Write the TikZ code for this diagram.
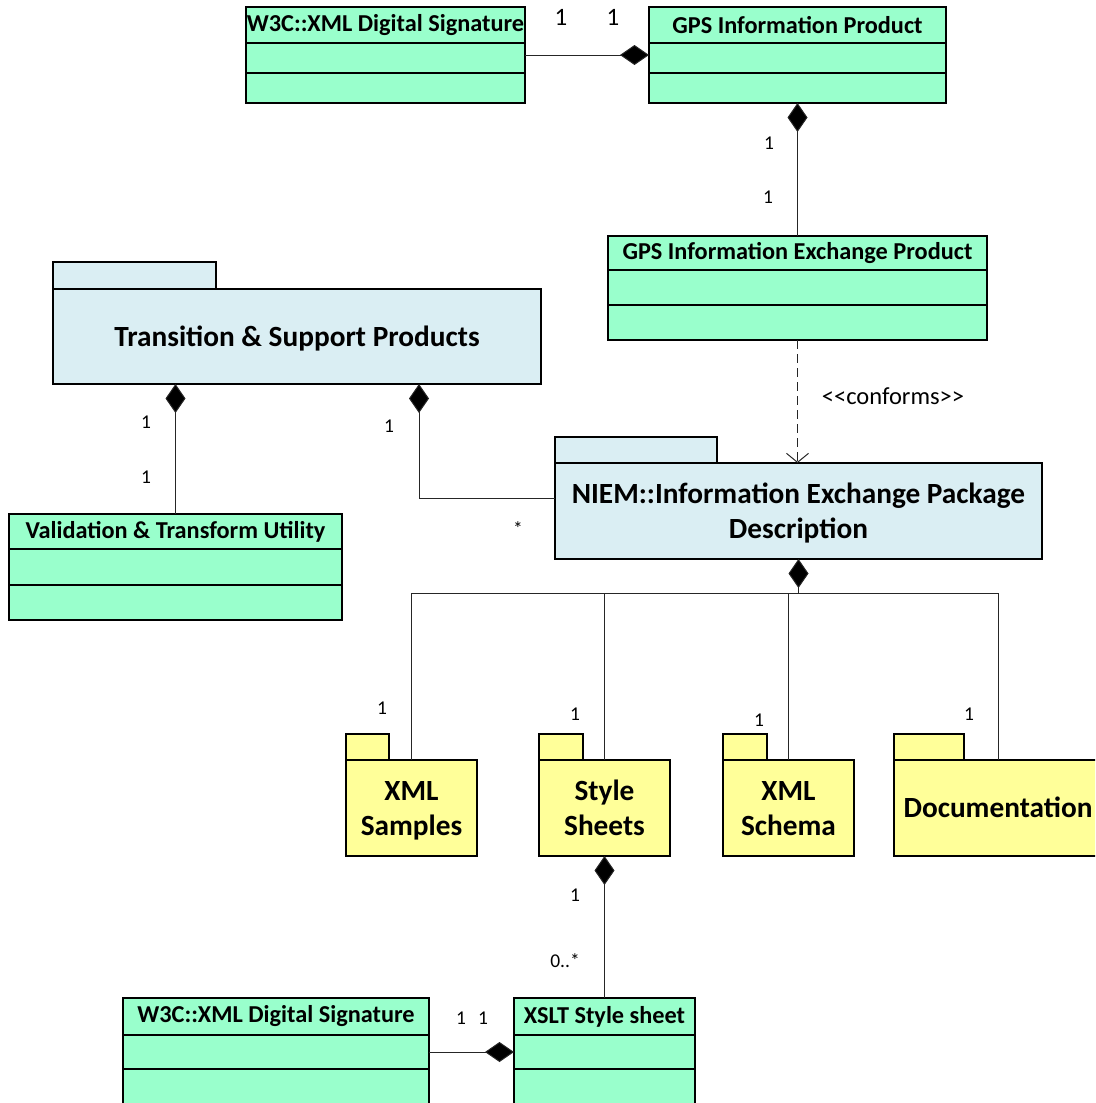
\documentclass[tikz,border=0pt]{standalone}
\usepackage{fontspec}
\setmainfont{Carlito}
\usetikzlibrary{arrows.meta,calc}
\definecolor{clsgreen}{HTML}{99FFCC}
\definecolor{pkgblue}{HTML}{DAEEF3}
\definecolor{pkgyellow}{HTML}{FFFF99}
\tikzset{
  boxline/.style={draw=black, line width=1.6pt},
  clsbox/.style={boxline, fill=clsgreen, anchor=north west, inner sep=0pt, outer sep=0pt},
  clshdr/.style={font=\bfseries\fontsize{24.3}{28}\selectfont, inner sep=0pt},
  pkgbody/.style={boxline, anchor=north west, inner sep=0pt, outer sep=0pt},
  pkgtext/.style={inner sep=0pt, align=center, font=\bfseries\fontsize{29.3}{35}\selectfont},
  conn/.style={draw=black!85, line width=1pt},
  comp/.style={conn, {Diamond[length=29pt,width=20pt,fill=black]}-},
  mult/.style={font=\fontsize{19.5}{22}\selectfont, inner sep=0pt},
  bigmult/.style={font=\fontsize{25}{28}\selectfont, inner sep=0pt},
}
\newcommand\umlclass[8]{% name, x, y, w, h, text, d1, d2
  \node[clsbox, minimum width=#4pt, minimum height=#5pt] (#1) at (#2,#3) {};
  \node[clshdr] (#1-t) at ($(#1.north)+(0,#7/2)$) {#6};
  \draw[boxline] ($(#1.north west)+(0,#7)$) -- ($(#1.north east)+(0,#7)$);
  \draw[boxline] ($(#1.north west)+(0,#8)$) -- ($(#1.north east)+(0,#8)$);
}
\newcommand\umlpkg[9]{% name, x, y, w, h, colour, tab width, tab height, text
  \node[pkgbody, fill=#6, minimum width=#4pt, minimum height=#5pt] (#1) at (#2,#3) {};
  \draw[boxline, fill=#6] (#1.north west) rectangle ++(#7,-#8);
  \node[pkgtext] (#1-t) at ([yshift=-2.5pt]#1.center) {#9};
}
\begin{document}
\begin{tikzpicture}[x=1pt,y=-1pt]
\useasboundingbox (0,0) rectangle (1095,1103);
\clip (0,0) rectangle (1095,1103);

% classes
\umlclass{w3ctop}{246}{7}{279}{96}{W3C::XML Digital Signature}{36}{66}
\umlclass{gpsip}{649}{7}{297}{96}{GPS Information Product}{36}{66}
\umlclass{gpsiep}{608}{236}{379}{104}{GPS Information Exchange Product}{34}{69}
\umlclass{valid}{9}{514}{333}{106}{Validation \& Transform Utility}{35}{71}
\umlclass{w3cbot}{123}{998}{306}{108}{W3C::XML Digital Signature}{37}{71}
\umlclass{xslt}{514}{998}{181}{108}{XSLT Style sheet}{37}{71}

% packages
\umlpkg{tsp}{53}{289}{488}{95}{pkgblue}{163}{27}{\strut Transition \& Support Products}
\umlpkg{niem}{555}{463}{487}{96}{pkgblue}{162}{26}{\strut NIEM::Information Exchange Package\\\strut Description}
\umlpkg{xmls}{346}{760}{131}{96}{pkgyellow}{43}{26}{\strut XML\\\strut Samples}
\umlpkg{ss}{539}{760}{131}{96}{pkgyellow}{44}{26}{\strut Style\\\strut Sheets}
\umlpkg{xsch}{723}{760}{131}{96}{pkgyellow}{44}{26}{\strut XML\\\strut Schema}
\umlpkg{doc}{894}{760}{208}{96}{pkgyellow}{70}{26}{\strut Documentation}

% connectors
\draw[comp] (gpsip.west) -- (w3ctop.east);
\node[bigmult] at (561,17) {1};
\node[bigmult] at (613,17) {1};

\draw[comp] (gpsip.south) -- (gpsiep.north);
\node[mult] at (769,143) {1};
\node[mult] at (768,197) {1};

\draw[conn, dash pattern=on 9pt off 5pt, -{Straight Barb[length=9pt,width=22pt,line width=1pt]}] (gpsiep.south) -- (gpsiep.south |- niem.north);
\node[font=\fontsize{24.5}{28}\selectfont, inner sep=0pt] (conf) at (893,396) {<\kern0pt<conforms>\kern0pt>};

\draw[comp] (valid.north |- tsp.south) -- (valid.north);
\node[mult] at (146,422) {1};
\node[mult] at (146,477) {1};

\draw[comp] ([xshift=366pt]tsp.south west) |- ([yshift=-35pt]niem.north west);
\node[mult] at (389,426) {1};
\node[mult] at (518,529) {*};

\draw[comp] (niem.south) -- ++(0,34) coordinate (hub);
\draw[conn] (hub) -| (xmls.north);
\draw[conn] (hub) -| (ss.north);
\draw[conn] (hub) -| (xsch.north);
\draw[conn] (hub) -| (doc.north);
\node[mult] at (382,708) {1};
\node[mult] at (575,714) {1};
\node[mult] at (759,720) {1};
\node[mult] at (969,714) {1};

\draw[comp] (ss.south) -- (xslt.north);
\node[mult] at (575,895) {1};
\node[mult] at (565,961) {0..*};

\draw[comp] (xslt.west) -- (w3cbot.east);
\node[mult] at (461,1018) {1};
\node[mult] at (483,1018) {1};
\end{tikzpicture}
\end{document}
